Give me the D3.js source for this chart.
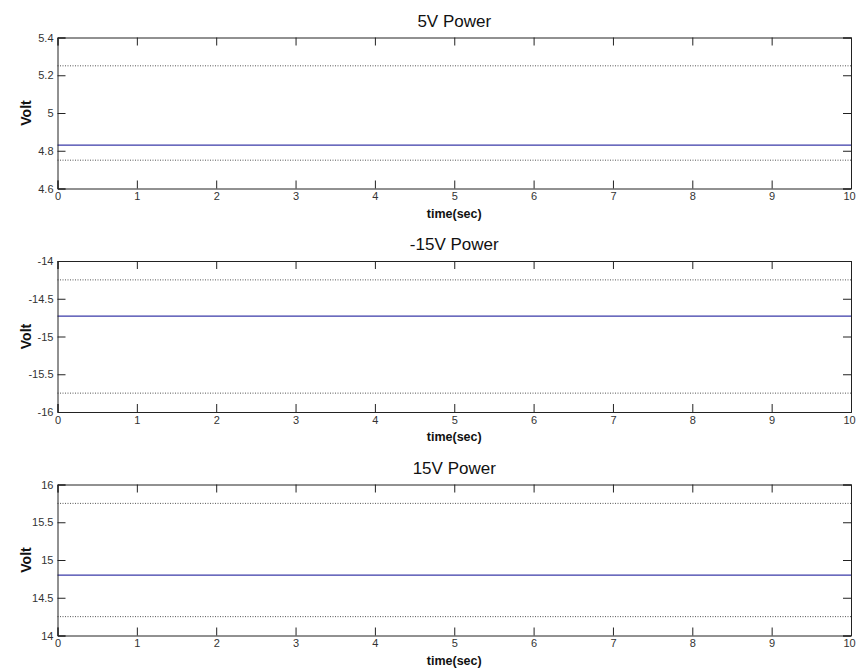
<!DOCTYPE html>
<html>
<head>
<meta charset="utf-8">
<script src="https://cdn.jsdelivr.net/npm/d3@7"></script>
<style>
  body { margin: 0; background: #fff; }
  text { font-family: Arial, "Liberation Sans", sans-serif; }
</style>
</head>
<body>
<div id="chart"></div>
<script>
const width = 856, height = 671

// panel titles and y ranges
const titles = ['5V Power', '-15V Power', '15V Power']
const yDomains = [[4.6, 5.4], [-16, -14], [14, 16]]
const yTicks = [[4.6, 4.8, 5, 5.2, 5.4], [-16, -15.5, -15, -14.5, -14], [14, 14.5, 15, 15.5, 16]]
const xTicks = [0, 1, 2, 3, 4, 5, 6, 7, 8, 9, 10]

// measured voltage (flat) and tolerance limits
const timeSec = [0, 10]
const measured = [4.83, -14.73, 14.80]
const upperLimit = [5.25, -14.25, 15.75]
const lowerLimit = [4.75, -15.75, 14.25]

const panelTops = [37.5, 261, 484.5]
const panelH = 151
const left = 57.5, right = 851

const svg = d3.select('#chart').append('svg')
  .attr('width', width).attr('height', height)

const x = d3.scaleLinear().domain([0, 10]).range([left, right])

const line = d3.line()
const fmt = d => String(d)   // keep plain hyphen minus like the original

titles.forEach((title, i) => {
  const top = panelTops[i], bottom = top + panelH
  const y = d3.scaleLinear().domain(yDomains[i]).range([bottom, top])
  const g = svg.append('g')

  // limit lines
  ;[upperLimit[i], lowerLimit[i]].forEach(v => {
    g.append('path')
      .attr('d', line(timeSec.map(t => [x(t), y(v)])))
      .attr('stroke', '#555').attr('stroke-width', 1)
      .attr('stroke-dasharray', '1,1.5').attr('fill', 'none')
  })

  g.append('path')
    .attr('d', line(timeSec.map(t => [x(t), y(measured[i])])))
    .attr('stroke', '#3a3aa8').attr('stroke-width', 1.2).attr('fill', 'none')

  // axes, ticks inward
  const tl = 8
  const axB = g.append('g').attr('transform', `translate(0,${bottom})`)
    .call(d3.axisBottom(x).tickValues(xTicks).tickSize(-tl).tickPadding(4).tickFormat(fmt))
  const axT = g.append('g').attr('transform', `translate(0,${top})`)
    .call(d3.axisTop(x).tickValues(xTicks).tickSize(-tl).tickFormat(''))
  const axL = g.append('g').attr('transform', `translate(${left},0)`)
    .call(d3.axisLeft(y).tickValues(yTicks[i]).tickSize(-tl).tickPadding(4).tickFormat(fmt))
  const axR = g.append('g').attr('transform', `translate(${right},0)`)
    .call(d3.axisRight(y).tickValues(yTicks[i]).tickSize(-tl).tickFormat(''))

  ;[axB, axT, axL, axR].forEach(a => {
    a.select('.domain').attr('stroke', '#222').attr('stroke-width', 1)
    a.selectAll('.tick line').attr('stroke', '#222')
    a.selectAll('.tick text').attr('fill', '#333').style('font-size', '11px')
  })
  axL.selectAll('.tick text').attr('dy', '0.32em')
  // last x label sits against the page edge
  axB.selectAll('.tick text').filter(d => d === 10).attr('dx', '-2')

  svg.append('text')
    .attr('x', (left + right) / 2).attr('y', top - 11)
    .attr('text-anchor', 'middle')
    .style('font-size', '17px').attr('fill', '#111')
    .text(title)

  svg.append('text')
    .attr('x', (left + right) / 2).attr('y', bottom + 29)
    .attr('text-anchor', 'middle')
    .style('font-size', '12.5px').style('font-weight', 'bold').attr('fill', '#111')
    .text('time(sec)')

  svg.append('text')
    .attr('transform', `translate(31,${(top + bottom) / 2}) rotate(-90)`)
    .attr('text-anchor', 'middle')
    .style('font-size', '14px').style('font-weight', 'bold').attr('fill', '#111')
    .text('Volt')
})
</script>
</body>
</html>
